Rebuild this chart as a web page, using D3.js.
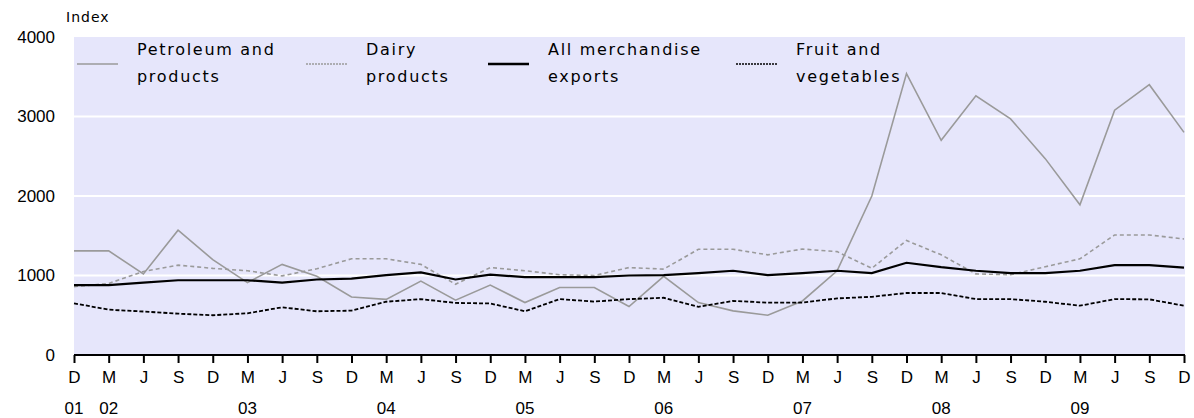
<!DOCTYPE html>
<html lang="en">
<head>
  <meta charset="UTF-8">
  <title>Export price indexes</title>
  <script src="https://d3js.org/d3.v7.min.js"></script>
  <style>
    body {
      margin: 0;
      background: #fff;
    }
    .axis text {
      font-family: "Liberation Sans", Arial, sans-serif;
      font-size: 17px;
      fill: #000;
    }
    .legend text, .unit {
      font-family: "DejaVu Sans", sans-serif;
      font-size: 16px;
      letter-spacing: 1.7px;
      fill: #000;
    }
    .series {
      fill: none;
    }
  </style>
</head>
<body>
  <svg id="chart" width="1194" height="418"></svg>

  <script>
    // quarters Dec 2001 .. Dec 2009
    const months = ["D",
      "M","J","S","D", "M","J","S","D", "M","J","S","D", "M","J","S","D",
      "M","J","S","D", "M","J","S","D", "M","J","S","D", "M","J","S","D"];
    const yearLabels = ["01", "02", "03", "04", "05", "06", "07", "08", "09"];
    const yearIndex = [0, 1, 5, 9, 13, 17, 21, 25, 29];
    const yTicks = [0, 1000, 2000, 3000, 4000];

    const petroleum = [1310, 1310, 1020, 1570, 1200, 910, 1140, 990, 730, 700, 930, 690, 880,
      660, 850, 850, 610, 990, 660, 555, 500, 680, 1060, 2000, 3540, 2700, 3260, 2970, 2470,
      1890, 3080, 3400, 2800];
    const dairy = [860, 900, 1050, 1130, 1090, 1060, 995, 1085, 1210, 1210, 1140, 890, 1100,
      1060, 1010, 1000, 1100, 1080, 1330, 1330, 1260, 1333, 1300, 1090, 1440, 1260, 1020, 1010,
      1110, 1210, 1510, 1510, 1460];
    const allMerch = [880, 880, 910, 940, 940, 940, 910, 950, 960, 1005, 1040, 950, 1010,
      980, 980, 980, 1000, 1005, 1030, 1060, 1005, 1030, 1060, 1030, 1160, 1105, 1060, 1030,
      1030, 1060, 1130, 1130, 1100];
    const fruitVeg = [650, 570, 547, 520, 500, 525, 600, 550, 558, 670, 703, 655, 648,
      550, 703, 672, 703, 720, 606, 681, 658, 660, 712, 732, 780, 780, 703, 703, 670,
      620, 703, 700, 620];

    const seriesNames = [["Petroleum and", "products"], ["Dairy", "products"],
      ["All merchandise", "exports"], ["Fruit and", "vegetables"]];

    const styles = [
      {stroke: "#9a9a9a", width: 1.6, dash: null},
      {stroke: "#9a9a9a", width: 1.6, dash: "4,3"},
      {stroke: "#000", width: 2.2, dash: null},
      {stroke: "#000", width: 1.8, dash: "4,2"}
    ];
    const allSeries = [petroleum, dairy, allMerch, fruitVeg];

    const margin = {top: 37, left: 74, right: 9, bottom: 63};
    const width = 1194 - margin.left - margin.right,
          height = 418 - margin.top - margin.bottom;

    const svg = d3.select("#chart");
    const g = svg.append("g")
      .attr("transform", `translate(${margin.left},${margin.top})`);

    const x = d3.scaleLinear().domain([0, months.length - 1]).range([0, width - 1]);
    const y = d3.scaleLinear().domain([0, 4000]).range([height, 0]);

    g.append("rect")
      .attr("width", width)
      .attr("height", height)
      .attr("fill", "#e6e6fb");

    // white gridlines
    g.selectAll(".grid")
      .data(yTicks.slice(1, -1))
      .join("line")
      .attr("x1", 0).attr("x2", width)
      .attr("y1", d => y(d)).attr("y2", d => y(d))
      .attr("stroke", "#fff")
      .attr("stroke-width", 2);

    // y labels
    const yAxis = g.append("g")
      .attr("class", "axis")
      .call(d3.axisLeft(y).tickValues(yTicks).tickSize(0).tickPadding(19).tickFormat(d3.format("d")));
    yAxis.select(".domain").remove();
    yAxis.selectAll("text").attr("font-size", 18);

    svg.append("text")
      .attr("class", "unit")
      .attr("x", 66)
      .attr("y", 22)
      .style("font-size", "14px")
      .style("letter-spacing", "1px")
      .text("Index");

    // series lines
    const line = d3.line().x((d, i) => x(i)).y(d => y(d));
    g.selectAll(".series")
      .data(allSeries)
      .join("path")
      .attr("class", "series")
      .attr("d", line)
      .attr("stroke", (d, i) => styles[i].stroke)
      .attr("stroke-width", (d, i) => styles[i].width)
      .attr("stroke-dasharray", (d, i) => styles[i].dash);

    // x axis
    const xAxis = g.append("g")
      .attr("class", "axis")
      .attr("transform", `translate(0,${height})`)
      .call(d3.axisBottom(x).tickValues(d3.range(months.length))
        .tickSize(8).tickPadding(8).tickFormat(i => months[i]));
    xAxis.select(".domain").attr("stroke-width", 2).attr("d", `M0,0H${width}`);
    xAxis.selectAll(".tick line").attr("stroke-width", 2);

    g.append("g")
      .attr("class", "axis")
      .selectAll("text")
      .data(yearLabels)
      .join("text")
      .attr("x", (d, i) => x(yearIndex[i]))
      .attr("y", height + 59)
      .attr("text-anchor", "middle")
      .text(d => d);

    // legend
    const legendX = [3, 232, 414, 662];
    const legend = g.append("g").attr("class", "legend");
    seriesNames.forEach((name, i) => {
      const item = legend.append("g").attr("transform", `translate(${legendX[i]},0)`);
      item.append("line")
        .attr("x1", 0).attr("x2", 41)
        .attr("y1", 27).attr("y2", 27)
        .attr("stroke", styles[i].stroke)
        .attr("stroke-width", i === 2 ? 2.5 : 1.6)
        .attr("stroke-dasharray", styles[i].dash ? "2,1" : null);
      name.forEach((t, j) => {
        item.append("text")
          .attr("x", 60)
          .attr("y", 18 + j * 27)
          .text(t);
      });
    });
  </script>
</body>
</html>
